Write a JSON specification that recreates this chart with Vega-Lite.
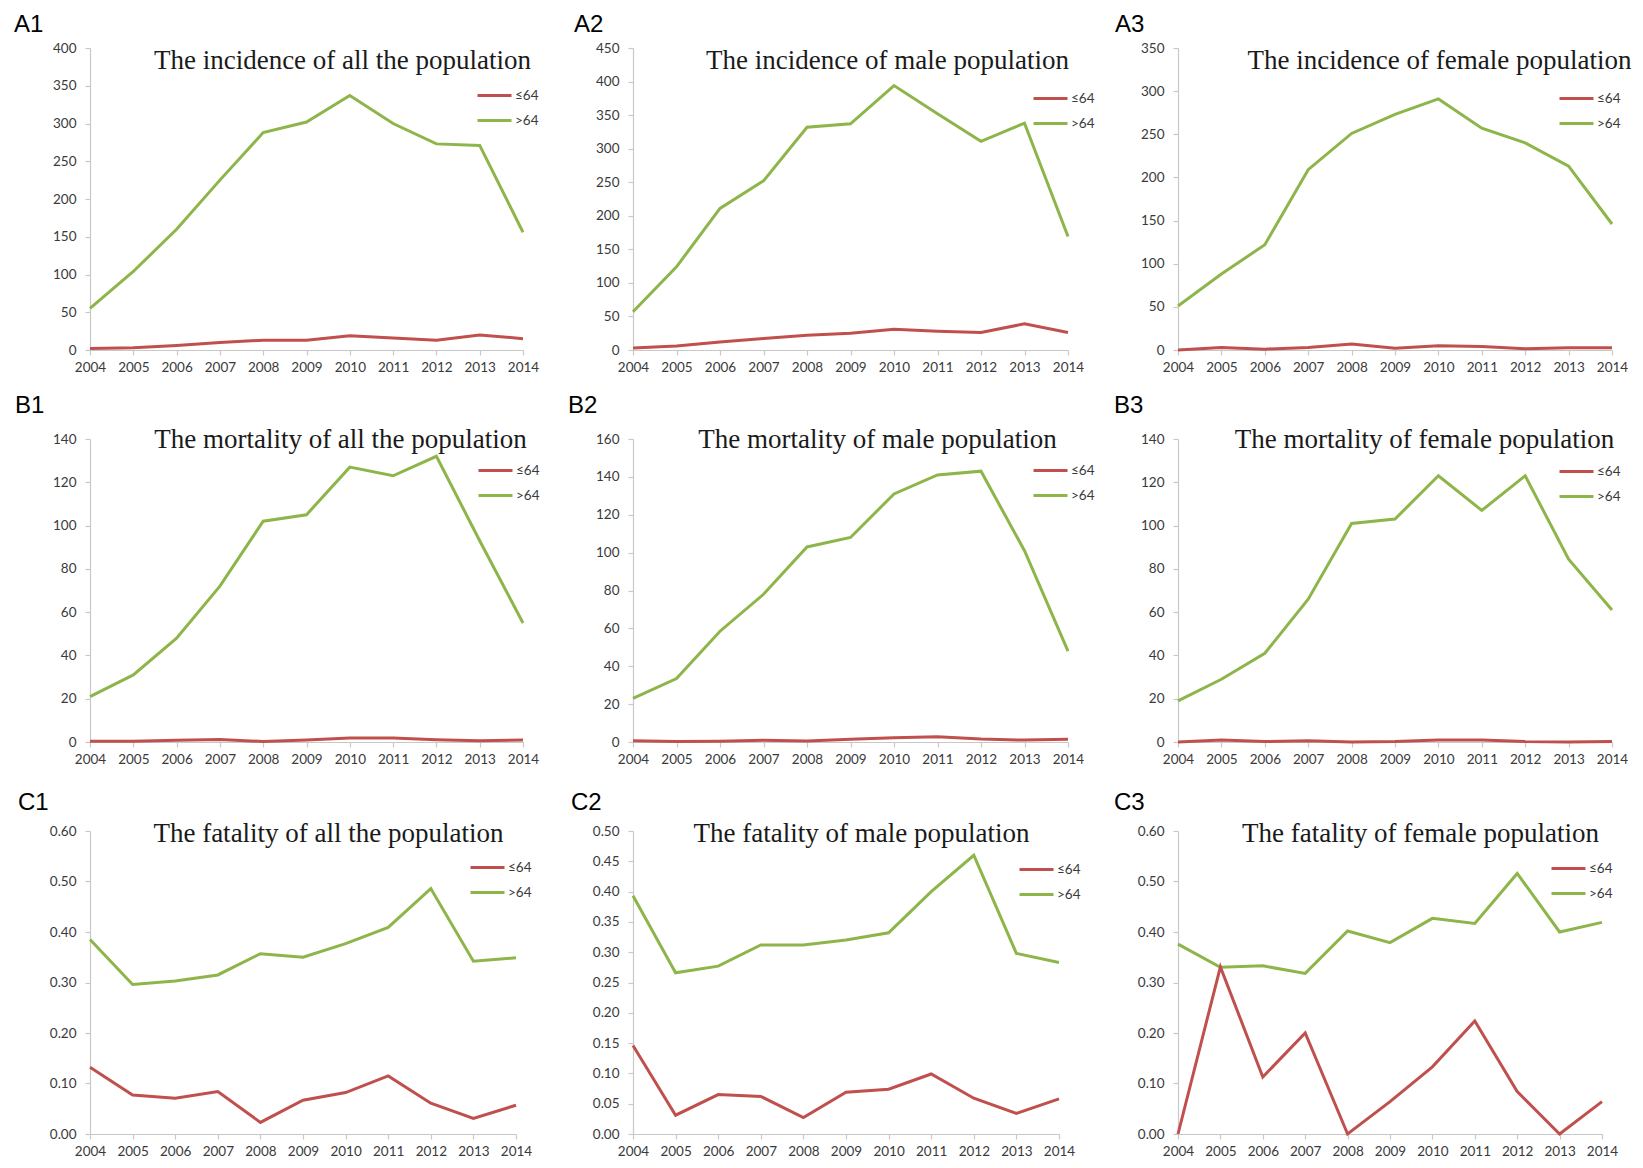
{
"$schema":"https://vega.github.io/schema/vega-lite/v6.json",
"background":"white",
"padding":{"left":14,"top":13,"right":5,"bottom":5},
"data":{"values":[
{"p":"A1","year":2004,"age":">64","v":55},{"p":"A1","year":2005,"age":">64","v":104},{"p":"A1","year":2006,"age":">64","v":160},{"p":"A1","year":2007,"age":">64","v":225},{"p":"A1","year":2008,"age":">64","v":288},{"p":"A1","year":2009,"age":">64","v":302},{"p":"A1","year":2010,"age":">64","v":337},{"p":"A1","year":2011,"age":">64","v":300},{"p":"A1","year":2012,"age":">64","v":273},{"p":"A1","year":2013,"age":">64","v":271},{"p":"A1","year":2014,"age":">64","v":156},
{"p":"A1","year":2004,"age":"≤64","v":2},{"p":"A1","year":2005,"age":"≤64","v":3},{"p":"A1","year":2006,"age":"≤64","v":6},{"p":"A1","year":2007,"age":"≤64","v":10},{"p":"A1","year":2008,"age":"≤64","v":13},{"p":"A1","year":2009,"age":"≤64","v":13},{"p":"A1","year":2010,"age":"≤64","v":19},{"p":"A1","year":2011,"age":"≤64","v":16},{"p":"A1","year":2012,"age":"≤64","v":13},{"p":"A1","year":2013,"age":"≤64","v":20},{"p":"A1","year":2014,"age":"≤64","v":15},
{"p":"A2","year":2004,"age":">64","v":57},{"p":"A2","year":2005,"age":">64","v":124},{"p":"A2","year":2006,"age":">64","v":211},{"p":"A2","year":2007,"age":">64","v":252},{"p":"A2","year":2008,"age":">64","v":332},{"p":"A2","year":2009,"age":">64","v":337},{"p":"A2","year":2010,"age":">64","v":394},{"p":"A2","year":2011,"age":">64","v":352},{"p":"A2","year":2012,"age":">64","v":311},{"p":"A2","year":2013,"age":">64","v":338},{"p":"A2","year":2014,"age":">64","v":169},
{"p":"A2","year":2004,"age":"≤64","v":3},{"p":"A2","year":2005,"age":"≤64","v":6},{"p":"A2","year":2006,"age":"≤64","v":12},{"p":"A2","year":2007,"age":"≤64","v":17},{"p":"A2","year":2008,"age":"≤64","v":22},{"p":"A2","year":2009,"age":"≤64","v":25},{"p":"A2","year":2010,"age":"≤64","v":31},{"p":"A2","year":2011,"age":"≤64","v":28},{"p":"A2","year":2012,"age":"≤64","v":26},{"p":"A2","year":2013,"age":"≤64","v":39},{"p":"A2","year":2014,"age":"≤64","v":26},
{"p":"A3","year":2004,"age":">64","v":51},{"p":"A3","year":2005,"age":">64","v":88},{"p":"A3","year":2006,"age":">64","v":122},{"p":"A3","year":2007,"age":">64","v":209},{"p":"A3","year":2008,"age":">64","v":251},{"p":"A3","year":2009,"age":">64","v":273},{"p":"A3","year":2010,"age":">64","v":291},{"p":"A3","year":2011,"age":">64","v":257},{"p":"A3","year":2012,"age":">64","v":240},{"p":"A3","year":2013,"age":">64","v":213},{"p":"A3","year":2014,"age":">64","v":146},
{"p":"A3","year":2004,"age":"≤64","v":0},{"p":"A3","year":2005,"age":"≤64","v":3},{"p":"A3","year":2006,"age":"≤64","v":1},{"p":"A3","year":2007,"age":"≤64","v":3},{"p":"A3","year":2008,"age":"≤64","v":7},{"p":"A3","year":2009,"age":"≤64","v":2},{"p":"A3","year":2010,"age":"≤64","v":5},{"p":"A3","year":2011,"age":"≤64","v":4},{"p":"A3","year":2012,"age":"≤64","v":1.5},{"p":"A3","year":2013,"age":"≤64","v":2.5},{"p":"A3","year":2014,"age":"≤64","v":2.5},
{"p":"B1","year":2004,"age":">64","v":21},{"p":"B1","year":2005,"age":">64","v":31},{"p":"B1","year":2006,"age":">64","v":48},{"p":"B1","year":2007,"age":">64","v":72},{"p":"B1","year":2008,"age":">64","v":102},{"p":"B1","year":2009,"age":">64","v":105},{"p":"B1","year":2010,"age":">64","v":127},{"p":"B1","year":2011,"age":">64","v":123},{"p":"B1","year":2012,"age":">64","v":132},{"p":"B1","year":2013,"age":">64","v":93},{"p":"B1","year":2014,"age":">64","v":55},
{"p":"B1","year":2004,"age":"≤64","v":0.3},{"p":"B1","year":2005,"age":"≤64","v":0.3},{"p":"B1","year":2006,"age":"≤64","v":0.8},{"p":"B1","year":2007,"age":"≤64","v":1.2},{"p":"B1","year":2008,"age":"≤64","v":0.2},{"p":"B1","year":2009,"age":"≤64","v":0.9},{"p":"B1","year":2010,"age":"≤64","v":1.8},{"p":"B1","year":2011,"age":"≤64","v":1.8},{"p":"B1","year":2012,"age":"≤64","v":1},{"p":"B1","year":2013,"age":"≤64","v":0.6},{"p":"B1","year":2014,"age":"≤64","v":0.9},
{"p":"B2","year":2004,"age":">64","v":23},{"p":"B2","year":2005,"age":">64","v":33.5},{"p":"B2","year":2006,"age":">64","v":58.5},{"p":"B2","year":2007,"age":">64","v":78},{"p":"B2","year":2008,"age":">64","v":103},{"p":"B2","year":2009,"age":">64","v":108},{"p":"B2","year":2010,"age":">64","v":131},{"p":"B2","year":2011,"age":">64","v":141},{"p":"B2","year":2012,"age":">64","v":143},{"p":"B2","year":2013,"age":">64","v":101},{"p":"B2","year":2014,"age":">64","v":48},
{"p":"B2","year":2004,"age":"≤64","v":0.7},{"p":"B2","year":2005,"age":"≤64","v":0.2},{"p":"B2","year":2006,"age":"≤64","v":0.4},{"p":"B2","year":2007,"age":"≤64","v":0.9},{"p":"B2","year":2008,"age":"≤64","v":0.5},{"p":"B2","year":2009,"age":"≤64","v":1.4},{"p":"B2","year":2010,"age":"≤64","v":2.3},{"p":"B2","year":2011,"age":"≤64","v":2.8},{"p":"B2","year":2012,"age":"≤64","v":1.6},{"p":"B2","year":2013,"age":"≤64","v":1},{"p":"B2","year":2014,"age":"≤64","v":1.4},
{"p":"B3","year":2004,"age":">64","v":19},{"p":"B3","year":2005,"age":">64","v":29},{"p":"B3","year":2006,"age":">64","v":41},{"p":"B3","year":2007,"age":">64","v":66},{"p":"B3","year":2008,"age":">64","v":101},{"p":"B3","year":2009,"age":">64","v":103},{"p":"B3","year":2010,"age":">64","v":123},{"p":"B3","year":2011,"age":">64","v":107},{"p":"B3","year":2012,"age":">64","v":123},{"p":"B3","year":2013,"age":">64","v":84.5},{"p":"B3","year":2014,"age":">64","v":61},
{"p":"B3","year":2004,"age":"≤64","v":0},{"p":"B3","year":2005,"age":"≤64","v":0.9},{"p":"B3","year":2006,"age":"≤64","v":0.2},{"p":"B3","year":2007,"age":"≤64","v":0.6},{"p":"B3","year":2008,"age":"≤64","v":0},{"p":"B3","year":2009,"age":"≤64","v":0.2},{"p":"B3","year":2010,"age":"≤64","v":0.9},{"p":"B3","year":2011,"age":"≤64","v":0.9},{"p":"B3","year":2012,"age":"≤64","v":0.2},{"p":"B3","year":2013,"age":"≤64","v":0},{"p":"B3","year":2014,"age":"≤64","v":0.2},
{"p":"C1","year":2004,"age":">64","v":0.385},{"p":"C1","year":2005,"age":">64","v":0.296},{"p":"C1","year":2006,"age":">64","v":0.303},{"p":"C1","year":2007,"age":">64","v":0.315},{"p":"C1","year":2008,"age":">64","v":0.357},{"p":"C1","year":2009,"age":">64","v":0.35},{"p":"C1","year":2010,"age":">64","v":0.377},{"p":"C1","year":2011,"age":">64","v":0.409},{"p":"C1","year":2012,"age":">64","v":0.486},{"p":"C1","year":2013,"age":">64","v":0.342},{"p":"C1","year":2014,"age":">64","v":0.349},
{"p":"C1","year":2004,"age":"≤64","v":0.132},{"p":"C1","year":2005,"age":"≤64","v":0.077},{"p":"C1","year":2006,"age":"≤64","v":0.071},{"p":"C1","year":2007,"age":"≤64","v":0.084},{"p":"C1","year":2008,"age":"≤64","v":0.023},{"p":"C1","year":2009,"age":"≤64","v":0.067},{"p":"C1","year":2010,"age":"≤64","v":0.082},{"p":"C1","year":2011,"age":"≤64","v":0.115},{"p":"C1","year":2012,"age":"≤64","v":0.061},{"p":"C1","year":2013,"age":"≤64","v":0.031},{"p":"C1","year":2014,"age":"≤64","v":0.057},
{"p":"C2","year":2004,"age":">64","v":0.393},{"p":"C2","year":2005,"age":">64","v":0.266},{"p":"C2","year":2006,"age":">64","v":0.277},{"p":"C2","year":2007,"age":">64","v":0.312},{"p":"C2","year":2008,"age":">64","v":0.312},{"p":"C2","year":2009,"age":">64","v":0.32},{"p":"C2","year":2010,"age":">64","v":0.332},{"p":"C2","year":2011,"age":">64","v":0.4},{"p":"C2","year":2012,"age":">64","v":0.46},{"p":"C2","year":2013,"age":">64","v":0.298},{"p":"C2","year":2014,"age":">64","v":0.283},
{"p":"C2","year":2004,"age":"≤64","v":0.146},{"p":"C2","year":2005,"age":"≤64","v":0.031},{"p":"C2","year":2006,"age":"≤64","v":0.065},{"p":"C2","year":2007,"age":"≤64","v":0.062},{"p":"C2","year":2008,"age":"≤64","v":0.027},{"p":"C2","year":2009,"age":"≤64","v":0.069},{"p":"C2","year":2010,"age":"≤64","v":0.074},{"p":"C2","year":2011,"age":"≤64","v":0.099},{"p":"C2","year":2012,"age":"≤64","v":0.059},{"p":"C2","year":2013,"age":"≤64","v":0.034},{"p":"C2","year":2014,"age":"≤64","v":0.058},
{"p":"C3","year":2004,"age":">64","v":0.376},{"p":"C3","year":2005,"age":">64","v":0.33},{"p":"C3","year":2006,"age":">64","v":0.333},{"p":"C3","year":2007,"age":">64","v":0.318},{"p":"C3","year":2008,"age":">64","v":0.402},{"p":"C3","year":2009,"age":">64","v":0.379},{"p":"C3","year":2010,"age":">64","v":0.427},{"p":"C3","year":2011,"age":">64","v":0.417},{"p":"C3","year":2012,"age":">64","v":0.516},{"p":"C3","year":2013,"age":">64","v":0.4},{"p":"C3","year":2014,"age":">64","v":0.419},
{"p":"C3","year":2004,"age":"≤64","v":0},{"p":"C3","year":2005,"age":"≤64","v":0.331},{"p":"C3","year":2006,"age":"≤64","v":0.113},{"p":"C3","year":2007,"age":"≤64","v":0.2},{"p":"C3","year":2008,"age":"≤64","v":0},{"p":"C3","year":2009,"age":"≤64","v":0.064},{"p":"C3","year":2010,"age":"≤64","v":0.133},{"p":"C3","year":2011,"age":"≤64","v":0.224},{"p":"C3","year":2012,"age":"≤64","v":0.084},{"p":"C3","year":2013,"age":"≤64","v":0},{"p":"C3","year":2014,"age":"≤64","v":0.064}
]},
"columns":3,
"spacing":{"row":89,"column":110},
"bounds":"flush",
"align":"each",
"resolve":{"scale":{"y":"independent","color":"independent"},"legend":{"color":"independent"}},
"concat":[
{"width":433,"height":302,"title":{"text":"A1","dx":-76},"transform":[{"filter":"datum.p==='A1'"}],"mark":{"type":"line","strokeWidth":3},
 "encoding":{"x":{"field":"year","type":"quantitative","scale":{"domain":[2004,2014],"nice":false,"zero":false},"axis":{"values":[2004,2005,2006,2007,2008,2009,2010,2011,2012,2013,2014],"format":"d","title":null}},
 "y":{"field":"v","type":"quantitative","scale":{"domain":[0,400],"nice":false},"axis":{"values":[0,50,100,150,200,250,300,350,400],"title":"The incidence of all the population","titleX":252,"titleY":20}},
 "color":{"field":"age","type":"nominal","scale":{"domain":["≤64",">64"],"range":["#C0504D","#8DB54A"]},"legend":{"title":null,"legendX":386,"legendY":29}}}},
{"width":435,"height":302,"title":{"text":"A2","dx":-59},"transform":[{"filter":"datum.p==='A2'"}],"mark":{"type":"line","strokeWidth":3},
 "encoding":{"x":{"field":"year","type":"quantitative","scale":{"domain":[2004,2014],"nice":false,"zero":false},"axis":{"values":[2004,2005,2006,2007,2008,2009,2010,2011,2012,2013,2014],"format":"d","title":null}},
 "y":{"field":"v","type":"quantitative","scale":{"domain":[0,450],"nice":false},"axis":{"values":[0,50,100,150,200,250,300,350,400,450],"title":"The incidence of male population","titleX":254,"titleY":20}},
 "color":{"field":"age","type":"nominal","scale":{"domain":["≤64",">64"],"range":["#C0504D","#8DB54A"]},"legend":{"title":null,"legendX":399,"legendY":32}}}},
{"width":434,"height":302,"title":{"text":"A3","dx":-63},"transform":[{"filter":"datum.p==='A3'"}],"mark":{"type":"line","strokeWidth":3},
 "encoding":{"x":{"field":"year","type":"quantitative","scale":{"domain":[2004,2014],"nice":false,"zero":false},"axis":{"values":[2004,2005,2006,2007,2008,2009,2010,2011,2012,2013,2014],"format":"d","title":null}},
 "y":{"field":"v","type":"quantitative","scale":{"domain":[0,350],"nice":false},"axis":{"values":[0,50,100,150,200,250,300,350],"title":"The incidence of female population","titleX":261,"titleY":20}},
 "color":{"field":"age","type":"nominal","scale":{"domain":["≤64",">64"],"range":["#C0504D","#8DB54A"]},"legend":{"title":null,"legendX":380,"legendY":32}}}},
{"width":433,"height":303,"title":{"text":"B1","dx":-75,"dy":-3},"transform":[{"filter":"datum.p==='B1'"}],"mark":{"type":"line","strokeWidth":3},
 "encoding":{"x":{"field":"year","type":"quantitative","scale":{"domain":[2004,2014],"nice":false,"zero":false},"axis":{"values":[2004,2005,2006,2007,2008,2009,2010,2011,2012,2013,2014],"format":"d","title":null}},
 "y":{"field":"v","type":"quantitative","scale":{"domain":[0,140],"nice":false},"axis":{"values":[0,20,40,60,80,100,120,140],"title":"The mortality of all the population","titleX":250,"titleY":8}},
 "color":{"field":"age","type":"nominal","scale":{"domain":["≤64",">64"],"range":["#C0504D","#8DB54A"]},"legend":{"title":null,"legendX":387,"legendY":13}}}},
{"width":435,"height":303,"title":{"text":"B2","dx":-65,"dy":-3},"transform":[{"filter":"datum.p==='B2'"}],"mark":{"type":"line","strokeWidth":3},
 "encoding":{"x":{"field":"year","type":"quantitative","scale":{"domain":[2004,2014],"nice":false,"zero":false},"axis":{"values":[2004,2005,2006,2007,2008,2009,2010,2011,2012,2013,2014],"format":"d","title":null}},
 "y":{"field":"v","type":"quantitative","scale":{"domain":[0,160],"nice":false},"axis":{"values":[0,20,40,60,80,100,120,140,160],"title":"The mortality of male population","titleX":244,"titleY":8}},
 "color":{"field":"age","type":"nominal","scale":{"domain":["≤64",">64"],"range":["#C0504D","#8DB54A"]},"legend":{"title":null,"legendX":399,"legendY":13}}}},
{"width":434,"height":303,"title":{"text":"B3","dx":-64,"dy":-3},"transform":[{"filter":"datum.p==='B3'"}],"mark":{"type":"line","strokeWidth":3},
 "encoding":{"x":{"field":"year","type":"quantitative","scale":{"domain":[2004,2014],"nice":false,"zero":false},"axis":{"values":[2004,2005,2006,2007,2008,2009,2010,2011,2012,2013,2014],"format":"d","title":null}},
 "y":{"field":"v","type":"quantitative","scale":{"domain":[0,140],"nice":false},"axis":{"values":[0,20,40,60,80,100,120,140],"title":"The mortality of female population","titleX":246,"titleY":8}},
 "color":{"field":"age","type":"nominal","scale":{"domain":["≤64",">64"],"range":["#C0504D","#8DB54A"]},"legend":{"title":null,"legendX":380,"legendY":14}}}},
{"width":426,"height":303,"title":{"text":"C1","dx":-72},"transform":[{"filter":"datum.p==='C1'"}],"mark":{"type":"line","strokeWidth":3},
 "encoding":{"x":{"field":"year","type":"quantitative","scale":{"domain":[2004,2014],"nice":false,"zero":false},"axis":{"values":[2004,2005,2006,2007,2008,2009,2010,2011,2012,2013,2014],"format":"d","title":null}},
 "y":{"field":"v","type":"quantitative","scale":{"domain":[0,0.6],"nice":false},"axis":{"values":[0,0.1,0.2,0.3,0.4,0.5,0.6],"format":".2f","title":"The fatality of all the population","titleX":238,"titleY":10}},
 "color":{"field":"age","type":"nominal","scale":{"domain":["≤64",">64"],"range":["#C0504D","#8DB54A"]},"legend":{"title":null,"legendX":379,"legendY":18}}}},
{"width":426,"height":303,"title":{"text":"C2","dx":-62},"transform":[{"filter":"datum.p==='C2'"}],"mark":{"type":"line","strokeWidth":3},
 "encoding":{"x":{"field":"year","type":"quantitative","scale":{"domain":[2004,2014],"nice":false,"zero":false},"axis":{"values":[2004,2005,2006,2007,2008,2009,2010,2011,2012,2013,2014],"format":"d","title":null}},
 "y":{"field":"v","type":"quantitative","scale":{"domain":[0,0.5],"nice":false},"axis":{"values":[0,0.05,0.1,0.15,0.2,0.25,0.3,0.35,0.4,0.45,0.5],"format":".2f","title":"The fatality of male population","titleX":228,"titleY":10}},
 "color":{"field":"age","type":"nominal","scale":{"domain":["≤64",">64"],"range":["#C0504D","#8DB54A"]},"legend":{"title":null,"legendX":385,"legendY":20}}}},
{"width":424,"height":303,"title":{"text":"C3","dx":-64},"transform":[{"filter":"datum.p==='C3'"}],"mark":{"type":"line","strokeWidth":3},
 "encoding":{"x":{"field":"year","type":"quantitative","scale":{"domain":[2004,2014],"nice":false,"zero":false},"axis":{"values":[2004,2005,2006,2007,2008,2009,2010,2011,2012,2013,2014],"format":"d","title":null}},
 "y":{"field":"v","type":"quantitative","scale":{"domain":[0,0.6],"nice":false},"axis":{"values":[0,0.1,0.2,0.3,0.4,0.5,0.6],"format":".2f","title":"The fatality of female population","titleX":242,"titleY":10}},
 "color":{"field":"age","type":"nominal","scale":{"domain":["≤64",">64"],"range":["#C0504D","#8DB54A"]},"legend":{"title":null,"legendX":372,"legendY":19}}}}
],
"config":{
 "view":{"stroke":null},
 "axis":{"grid":false,"domainColor":"#C8C8C8","tickColor":"#C8C8C8","domainWidth":1.2,"tickWidth":1.2,"tickSize":5,"labelFont":"Lato","labelFontSize":13.5,"labelColor":"#3A3A3A"},
 "axisX":{"labelPadding":5,"labelAngle":0,"labelOverlap":false,"labelFlush":false,"labelBound":false},
 "axisY":{"labelPadding":9,"titleAngle":0,"titleAlign":"center","titleBaseline":"alphabetic","titleFont":"Liberation Serif","titleFontSize":27,"titleFontWeight":"normal","titleColor":"#1A1A1A","titleLimit":2000},
 "legend":{"orient":"none","symbolType":"stroke","symbolSize":1156,"symbolStrokeWidth":3,"rowPadding":-3,"padding":0,"labelFont":"Lato","labelFontSize":13.5,"labelColor":"#3A3A3A","labelOffset":2},
 "title":{"anchor":"start","frame":"group","font":"Liberation Sans","fontSize":24,"fontWeight":"normal","color":"#000000","offset":0,"baseline":"alphabetic"}
}
}
